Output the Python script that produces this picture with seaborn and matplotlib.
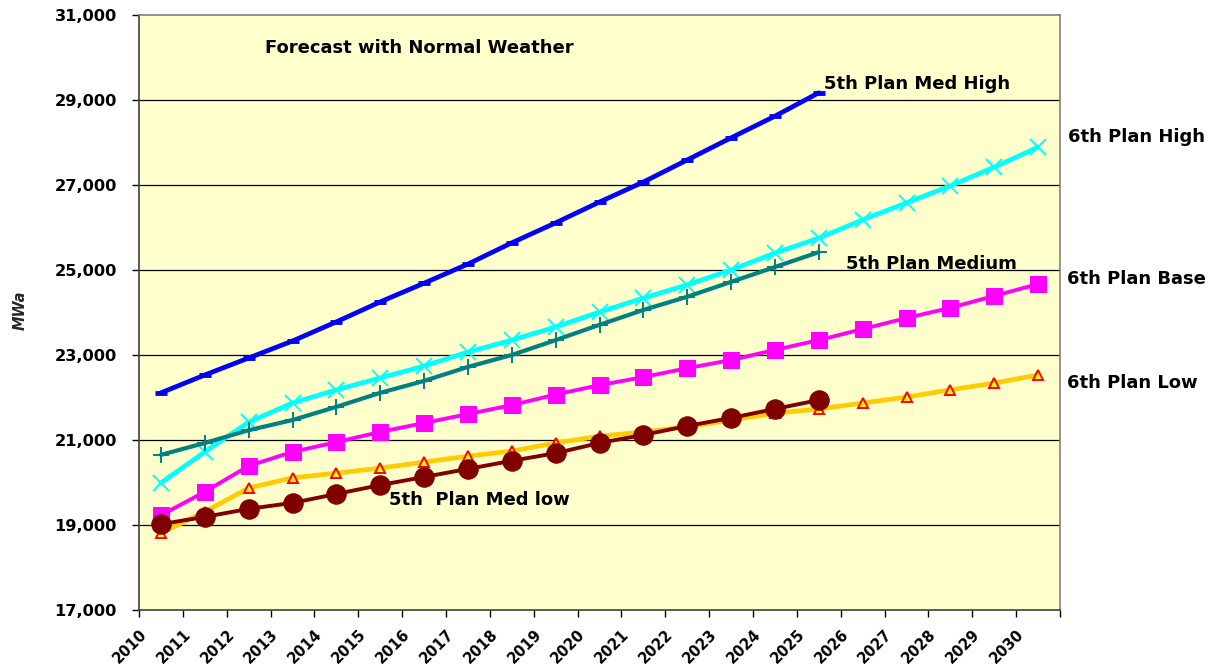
import numpy as np
import pandas as pd
import matplotlib
matplotlib.use("Agg")
import matplotlib.pyplot as plt
import matplotlib.transforms as mtransforms
import seaborn as sns

# Forecast years (category axis)
years = list(range(2010, 2031))

# Load forecasts, MWa
plan5_med_high = [22110, 22530, 22930, 23330, 23780, 24250, 24690, 25140,
                  25640, 26110, 26600, 27070, 27590, 28110, 28620, 29170]
plan6_high = [19990, 20720, 21420, 21870, 22180, 22460, 22740, 23070,
              23350, 23660, 24010, 24340, 24650, 25000, 25400, 25750,
              26180, 26580, 26980, 27420, 27890]
plan5_medium = [20650, 20930, 21230, 21470, 21780, 22110, 22390, 22720,
                23000, 23350, 23710, 24060, 24370, 24720, 25070, 25420]
plan6_base = [19230, 19780, 20390, 20720, 20950, 21190, 21400, 21610,
              21820, 22070, 22290, 22480, 22690, 22880, 23120, 23350,
              23610, 23870, 24110, 24390, 24670]
plan6_low = [18810, 19310, 19870, 20110, 20220, 20340, 20480, 20620,
             20740, 20930, 21090, 21190, 21310, 21470, 21630, 21730,
             21870, 22010, 22180, 22340, 22530]
plan5_med_low = [19020, 19190, 19380, 19520, 19730, 19940, 20130, 20320,
                 20510, 20690, 20930, 21120, 21330, 21520, 21730, 21940]

y_ticks = [17000, 19000, 21000, 23000, 25000, 27000, 29000, 31000]

sns.set_style("white")
plt.rcParams["font.family"] = ["DejaVu Sans"]

fig = plt.figure(figsize=(12.17, 6.68), dpi=100)
ax = fig.add_axes([139 / 1217, 1 - 610 / 668, (1060 - 139) / 1217, (610 - 15) / 668])
ax.set_facecolor("#FFFFCC")

# horizontal gridlines
for v in y_ticks[1:-1]:
    ax.axhline(v, color="black", lw=0.9, zorder=1)

def draw(values, **kw):
    sns.lineplot(x=years[:len(values)], y=values, ax=ax, zorder=3, **kw)

draw(plan5_med_high, color="#0000FF", lw=3.4, marker="_", ms=8, mew=3.5,
     mec="#0000FF")
draw(plan6_high, color="#00FFFF", lw=3.4, marker="x", ms=12, mew=1.4,
     mec="#00FFFF")
draw(plan5_medium, color="#008080", lw=3.0, marker="+", ms=12, mew=1.4,
     mec="#008080")
draw(plan6_base, color="#FF00FF", lw=2.8, marker="s", ms=12, mec="#FF00FF",
     mfc="#FF00FF")
draw(plan6_low, color="#FFCC00", lw=3.4, marker="^", ms=7, mew=1.4,
     mec="#FF0000", mfc="#FFFF00")
draw(plan5_med_low, color="#800000", lw=2.8, marker="o", ms=14,
     mec="#800000", mfc="#800000")

ax.set_xlim(2009.5, 2030.5)
ax.set_ylim(17000, 31000)

ax.set_yticks(y_ticks)
ax.set_yticklabels([f"{v:,}" for v in y_ticks], fontsize=11.7, fontweight="bold")

xt = np.arange(2009.5, 2031.0, 1.0)
ax.set_xticks(xt)
ax.set_xticklabels([str(y) for y in years] + [""], fontsize=10.5,
                   fontweight="bold", rotation=45, ha="right", va="top",
                   rotation_mode="anchor")
shift = mtransforms.ScaledTranslation(7 / 100, 0, fig.dpi_scale_trans)
for lab in ax.get_xticklabels():
    lab.set_transform(lab.get_transform() + shift)

ax.tick_params(axis="y", direction="out", length=5, width=1, pad=11,
               colors="black", left=True)
ax.tick_params(axis="x", direction="out", length=5, width=1, pad=7,
               colors="black", bottom=True)

for side in ["left", "bottom"]:
    ax.spines[side].set_color("#404040")
    ax.spines[side].set_linewidth(1.2)
for side in ["right", "top"]:
    ax.spines[side].set_color("#808080")
    ax.spines[side].set_linewidth(1.2)

ax.set_xlabel("")
ax.set_ylabel("")
fig.text(20 / 1217, 1 - 310 / 668, "MWa", rotation=90, ha="center",
         va="center", fontsize=10.5, fontweight="bold", style="italic")

label_kw = dict(fontsize=13, fontweight="bold", color="black", va="center")
fig.text(265 / 1217, 1 - 48 / 668, "Forecast with Normal Weather", **label_kw)
fig.text(824 / 1217, 1 - 84 / 668, "5th Plan Med High", **label_kw)
fig.text(1068 / 1217, 1 - 137 / 668, "6th Plan High", **label_kw)
fig.text(846 / 1217, 1 - 264 / 668, "5th Plan Medium", **label_kw)
fig.text(1067 / 1217, 1 - 279 / 668, "6th Plan Base", **label_kw)
fig.text(1067 / 1217, 1 - 383 / 668, "6th Plan Low", **label_kw)
fig.text(389 / 1217, 1 - 500 / 668, "5th  Plan Med low", **label_kw)

fig.savefig("out.png", dpi=100, facecolor="white")
